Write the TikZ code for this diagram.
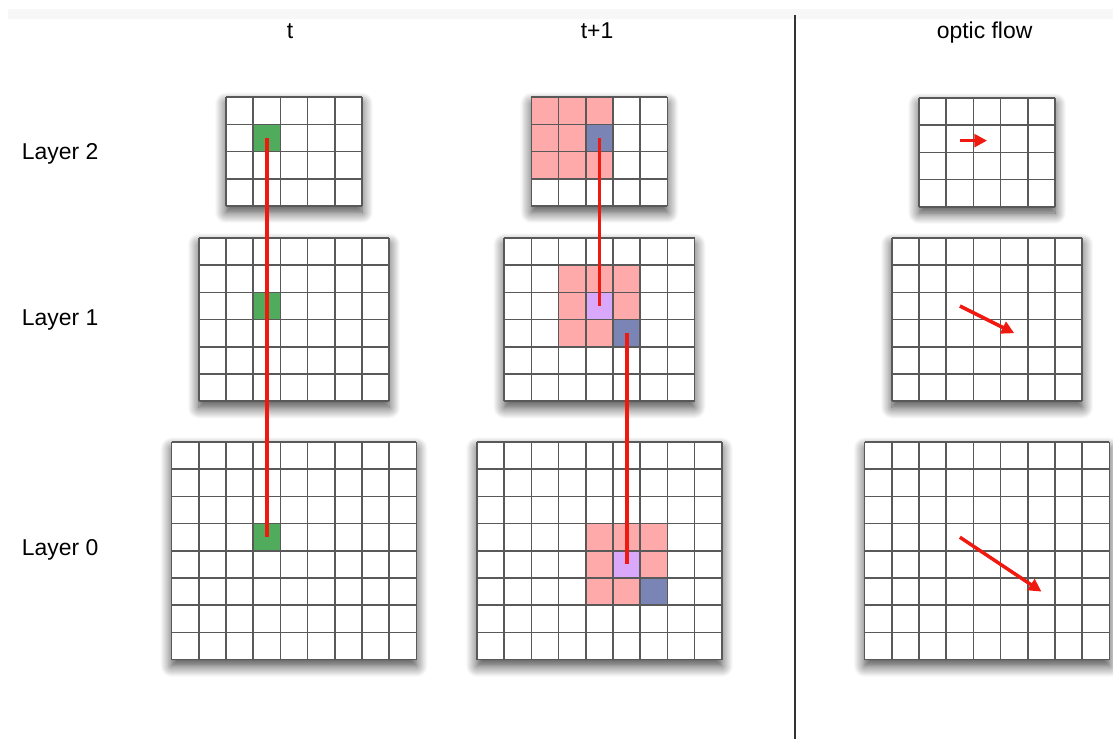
\documentclass[tikz,border=0pt]{standalone}
\usepackage{fontspec}
\setmainfont{Liberation Sans}
\usepackage{xcolor}
\usepackage{tikz}
\usetikzlibrary{arrows.meta, calc, shadows.blur}

\definecolor{verde}{RGB}{80,172,92}
\definecolor{rosa}{RGB}{255,170,170}
\definecolor{blu}{RGB}{122,133,182}
\definecolor{viola}{RGB}{218,168,250}
\definecolor{rosso}{RGB}{240,25,15}

\tikzset{
    griglia/.style={draw=black!65, line width=1pt, step=1},
    sfondo/.style={fill=white, blur shadow={shadow xshift=0pt, shadow yshift=-4pt, shadow blur radius=7pt, shadow blur steps=12, shadow opacity=75}},
    legame/.style={rosso, line width=2.4pt},
    flusso/.style={rosso, line width=2.2pt, -{Triangle[length=8pt, width=8pt]}},
    etichetta/.style={font=\fontsize{14.4}{17}\selectfont, anchor=base}
}

\begin{document}
\begin{tikzpicture}[x=0.6cm, y=0.6cm]
    \useasboundingbox (0, 0) rectangle (40.92, -27.17);
    \fill[black!3] (0.3, -0.33) rectangle (40.92, -0.7);

    % Titoli
    \node[etichetta] (tit-t) at (10.66, -1.4) {t};
    \node[etichetta] (tit-t1) at (21.95, -1.4) {t+1};
    \node[etichetta] (tit-flow) at (36.2, -1.4) {optic flow};
    \node[etichetta, anchor=base west] (lay2) at (0.6, -5.85) {Layer 2};
    \node[etichetta, anchor=base west] (lay1) at (0.6, -11.98) {Layer 1};
    \node[etichetta, anchor=base west] (lay0) at (0.6, -20.44) {Layer 0};

    % Separatore
    \draw[black!80, line width=1.4pt] (29.23, -0.55) -- (29.23, -27.17);

    % Sfondi con ombra
    \foreach \gx/\gy/\gc/\gr in {8.31/3.57/5/4, 7.31/8.75/7/6, 6.31/16.25/9/8,
                                 19.54/3.57/5/4, 18.54/8.75/7/6, 17.54/16.25/9/8,
                                 33.79/3.6/5/4, 32.79/8.75/7/6, 31.79/16.25/9/8}
        \path[sfondo] (\gx, -\gy) rectangle ++(\gc, -\gr);

    % Colonna t
    \fill[verde, shift={(8.31, -3.57)}] (1, -1) rectangle ++(1, -1);
    \fill[verde, shift={(7.31, -8.75)}] (2, -2) rectangle ++(1, -1);
    \fill[verde, shift={(6.31, -16.25)}] (3, -3) rectangle ++(1, -1);

    % Colonna t+1
    \begin{scope}[shift={(19.54, -3.57)}]
        \fill[rosa] (0, 0) rectangle (3, -3);
        \fill[blu] (2, -1) rectangle ++(1, -1);
    \end{scope}
    \begin{scope}[shift={(18.54, -8.75)}]
        \fill[rosa] (2, -1) rectangle (5, -4);
        \fill[viola] (3, -2) rectangle ++(1, -1);
        \fill[blu] (4, -3) rectangle ++(1, -1);
    \end{scope}
    \begin{scope}[shift={(17.54, -16.25)}]
        \fill[rosa] (4, -3) rectangle (7, -6);
        \fill[viola] (5, -4) rectangle ++(1, -1);
        \fill[blu] (6, -5) rectangle ++(1, -1);
    \end{scope}

    % Griglie
    \foreach \gx/\gy/\gc/\gr in {8.31/3.57/5/4, 7.31/8.75/7/6, 6.31/16.25/9/8,
                                 19.54/3.57/5/4, 18.54/8.75/7/6, 17.54/16.25/9/8,
                                 33.79/3.6/5/4, 32.79/8.75/7/6, 31.79/16.25/9/8}
        \draw[griglia, shift={(\gx, -\gy)}] (0, 0) grid (\gc, -\gr);

    % Corrispondenze
    \coordinate (t2) at (9.81, -5.07);
    \coordinate (t1) at (9.81, -11.25);
    \coordinate (t0) at (9.81, -19.75);
    \draw[legame] (t2) -- (t1) -- (t0);

    \coordinate (s2b) at (22.04, -5.07);
    \coordinate (s1v) at (22.04, -11.25);
    \coordinate (s1b) at (23.04, -12.25);
    \coordinate (s0v) at (23.04, -20.75);
    \draw[legame] (s2b) -- (s1v);
    \draw[legame] (s1b) -- (s0v);

    % Flusso ottico
    \coordinate (f2a) at (35.29, -5.17);
    \coordinate (f2b) at (36.29, -5.17);
    \coordinate (f1a) at (35.29, -11.25);
    \coordinate (f1b) at (37.29, -12.25);
    \coordinate (f0a) at (35.29, -19.75);
    \coordinate (f0b) at (38.29, -21.75);
    \draw[flusso] (f2a) -- (f2b);
    \draw[flusso] (f1a) -- (f1b);
    \draw[flusso] (f0a) -- (f0b);
\end{tikzpicture}
\end{document}
